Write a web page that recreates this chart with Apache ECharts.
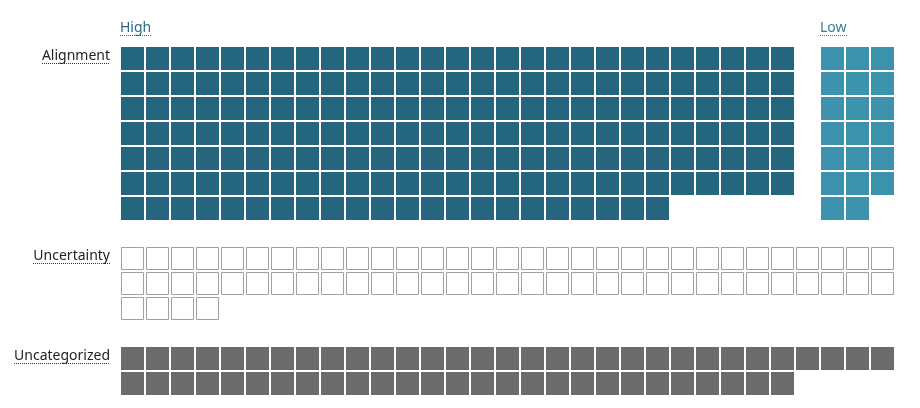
<!DOCTYPE html>
<html><head><meta charset="utf-8">
<script src="https://cdn.jsdelivr.net/npm/echarts@6/dist/echarts.min.js"></script>
<style>html,body{margin:0;padding:0;background:#fff}#c{width:920px;height:408px}</style>
</head><body><div id="c"></div>
<script>
// ---- data ----
const categories = ['Alignment', 'Uncertainty', 'Uncategorized'];
const columnLabels = ['High', 'Low'];
const alignmentHigh = 184;
const alignmentLow = 20;
const uncertaintyCount = 66;
const uncategorizedCount = 58;

// ---- layout (cells) ----
const TOTAL_COLS = 31, HIGH_COLS = 27, LOW_START = 28, LOW_COLS = 3;
function cells(count, cols, startCol, startRow) {
  const out = [];
  for (let i = 0; i < count; i++) out.push([startCol + (i % cols), startRow + Math.floor(i / cols)]);
  return out;
}
const alignRows = Math.max(Math.ceil(alignmentHigh / HIGH_COLS), Math.ceil(alignmentLow / LOW_COLS));
const uncStart = alignRows + 1;
const ucatStart = uncStart + Math.ceil(uncertaintyCount / TOTAL_COLS) + 1;
const totalRows = ucatStart + Math.ceil(uncategorizedCount / TOTAL_COLS);
const rowStarts = [0, uncStart, ucatStart];

const chart = echarts.init(document.getElementById('c'), null, {renderer: 'canvas'});
const base = {type: 'scatter', symbol: 'rect', silent: true, animation: false, emphasis: {disabled: true}};
chart.setOption({
  animation: false,
  grid: {left: 120, top: 46, width: 775, height: totalRows * 25},
  xAxis: {type: 'value', min: -0.5, max: TOTAL_COLS - 0.5, show: false},
  yAxis: {type: 'value', inverse: true, min: -0.5, max: totalRows - 0.5, show: false},
  series: [
    Object.assign({}, base, {name: 'High', data: cells(alignmentHigh, HIGH_COLS, 0, 0), symbolSize: 23, itemStyle: {color: '#24667e', opacity: 1}}),
    Object.assign({}, base, {name: 'Low', data: cells(alignmentLow, LOW_COLS, LOW_START, 0), symbolSize: 23, itemStyle: {color: '#3d92ae', opacity: 1}}),
    Object.assign({}, base, {name: 'Uncertainty', data: cells(uncertaintyCount, TOTAL_COLS, 0, uncStart), symbolSize: 22, itemStyle: {color: '#ffffff', borderColor: '#a0a0a0', borderWidth: 1, opacity: 1}}),
    Object.assign({}, base, {name: 'Uncategorized', data: cells(uncategorizedCount, TOTAL_COLS, 0, ucatStart), symbolSize: 23, itemStyle: {color: '#6b6b6b', opacity: 1}})
  ]
});

// ---- labels with dotted underline ----
const FONT = '14px "Noto Sans"';
const mctx = document.createElement('canvas').getContext('2d');
mctx.font = FONT;
const W = t => mctx.measureText(t).width;
const g = [];
function label(text, x, rowTop, align, color, lineColor) {
  const w = W(text);
  const x0 = align === 'right' ? x - w : x;
  g.push({type: 'text', silent: true, style: {text: text, x: x, y: rowTop + 8.6, align: align, verticalAlign: 'middle', font: FONT, fill: color}});
  g.push({type: 'line', silent: true, shape: {x1: Math.round(x0), y1: rowTop + 16.5, x2: Math.round(x0 + w), y2: rowTop + 16.5},
          style: {stroke: lineColor, lineWidth: 1, lineDash: [1, 1]}});
}
const cellLeft = c => chart.convertToPixel({gridIndex: 0}, [c - 0.5, 0])[0];
const rowTopPx = r => chart.convertToPixel({gridIndex: 0}, [0, r - 0.5])[1];
categories.forEach((c, i) => label(c, cellLeft(0) - 10, Math.round(rowTopPx(rowStarts[i])) + 1, 'right', '#222222', '#333333'));
label(columnLabels[0], cellLeft(0), 19, 'left', '#2b6a80', '#2b6a80');
label(columnLabels[1], cellLeft(LOW_START), 19, 'left', '#357f96', '#357f96');
chart.setOption({graphic: {elements: g}});
</script></body></html>
